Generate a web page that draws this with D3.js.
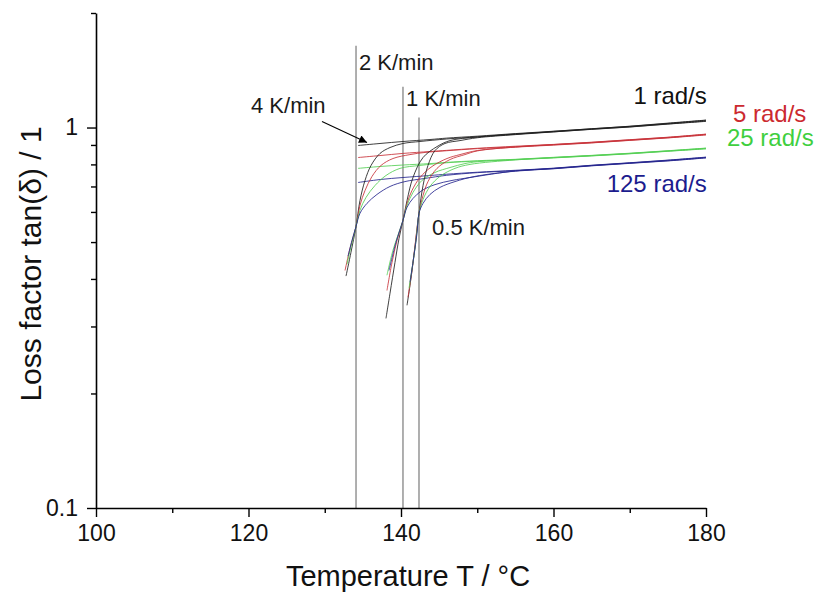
<!DOCTYPE html>
<html>
<head>
<meta charset="utf-8">
<script src="https://cdn.jsdelivr.net/npm/d3@7/dist/d3.min.js"></script>
<style>
  html, body { margin: 0; padding: 0; background: #fff; }
  svg { display: block; font-family: "Liberation Sans", Arial, sans-serif; }
</style>
</head>
<body>
<svg id="chart" width="823" height="592"></svg>
<script>
// Axis ticks
const xMajorTicks = [100, 120, 140, 160, 180];
const xMinorTicks = [110, 130, 150, 170];
const yMajorTicks = [0.1, 1];
const yMinorTicks = [0.2, 0.3, 0.4, 0.5, 0.6, 0.7, 0.8, 0.9, 2];

// Frequencies and heating rates
const frequencies = ["1 rad/s", "5 rad/s", "25 rad/s", "125 rad/s"];
const heatingRates = ["4 K/min", "2 K/min", "1 K/min", "0.5 K/min"];

// Crossover temperatures (°C) marked by vertical lines, and their upper ends (tan δ)
const crossTemps = [134.1, 140.26, 142.36];
const crossTops  = [1.64, 1.28, 1.062];

// tan(δ) vs temperature, [T, tanδ]
// 4 K/min
const r4_f1 = [[134.36,0.897],[137.25,0.908],[140.26,0.919],[143.80,0.930],[146,0.938],[150,0.949],[155,0.964],[160,0.978],[165,0.992],[170,1.008],[175,1.027],[180,1.046]];
const r4_f5 = [[134.36,0.834],[137.25,0.844],[140.26,0.855],[143.80,0.865],[146,0.871],[150,0.882],[155,0.893],[160,0.903],[165,0.915],[170,0.929],[175,0.943],[180,0.961]];
const r4_f25 = [[134.36,0.781],[137.25,0.790],[140.26,0.797],[143.80,0.804],[146,0.810],[150,0.818],[155,0.825],[160,0.835],[165,0.845],[170,0.856],[175,0.869],[180,0.883]];
const r4_f125 = [[134.36,0.717],[137.25,0.730],[140.26,0.739],[143.80,0.748],[146,0.754],[150,0.763],[155,0.772],[160,0.782],[165,0.796],[170,0.808],[175,0.821],[180,0.836]];
// 2 K/min
const r2_f1 = [[132.79,0.407],[133.44,0.470],[134.10,0.549],[134.62,0.643],[135.28,0.726],[136.07,0.795],[137.25,0.855],[138.56,0.886],[140.26,0.908],[142.49,0.919],[146,0.933],[150,0.945],[155,0.962],[160,0.974],[165,0.990],[170,1.004],[175,1.022],[180,1.040]];
const r2_f5 = [[132.66,0.421],[133.31,0.481],[134.10,0.549],[134.62,0.624],[135.28,0.683],[136.20,0.744],[137.38,0.795],[138.95,0.829],[141.18,0.849],[143.15,0.860],[146,0.869],[150,0.880],[155,0.890],[160,0.901],[165,0.912],[170,0.926],[175,0.940],[180,0.958]];
const r2_f25 = [[132.92,0.437],[133.44,0.487],[134.10,0.549],[134.62,0.606],[135.41,0.655],[136.59,0.704],[138.03,0.748],[139.87,0.781],[142.49,0.795],[146,0.808],[150,0.816],[155,0.823],[160,0.833],[165,0.843],[170,0.854],[175,0.867],[180,0.880]];
const r2_f125 = [[133.05,0.459],[133.57,0.505],[134.10,0.549],[134.62,0.595],[135.54,0.632],[136.85,0.667],[138.56,0.700],[140.52,0.721],[143.15,0.735],[146,0.749],[150,0.761],[155,0.770],[160,0.780],[165,0.794],[170,0.806],[175,0.818],[180,0.833]];
// 1 K/min
const r1_f1 = [[138.03,0.315],[138.56,0.367],[139.21,0.442],[139.74,0.511],[140.26,0.570],[140.79,0.643],[141.57,0.739],[142.89,0.834],[144.72,0.891],[146.43,0.924],[150,0.944],[155,0.960],[160,0.977],[165,0.993],[170,1.007],[175,1.025],[180,1.045]];
const r1_f5 = [[138.16,0.373],[138.82,0.442],[139.48,0.505],[140.26,0.570],[140.79,0.632],[141.44,0.683],[142.49,0.739],[144.07,0.790],[146.03,0.829],[147.74,0.849],[150,0.870],[155,0.888],[160,0.899],[165,0.911],[170,0.925],[175,0.939],[180,0.956]];
const r1_f25 = [[138.16,0.409],[138.95,0.476],[140.26,0.570],[140.79,0.624],[141.57,0.675],[142.75,0.726],[144.46,0.762],[146.43,0.785],[148.39,0.804],[150,0.813],[155,0.824],[160,0.834],[165,0.844],[170,0.855],[175,0.868],[180,0.882]];
const r1_f125 = [[138.43,0.421],[139.34,0.499],[140.26,0.570],[140.79,0.617],[141.57,0.651],[142.75,0.683],[144.46,0.708],[146.69,0.726],[149.05,0.739],[155,0.769],[160,0.781],[165,0.795],[170,0.807],[175,0.820],[180,0.835]];
// 0.5 K/min
const r05_f1 = [[140.79,0.341],[141.18,0.385],[141.70,0.461],[142.36,0.595],[142.89,0.704],[143.54,0.795],[144.46,0.870],[145.77,0.908],[147.74,0.924],[150,0.940],[155,0.958],[160,0.974],[165,0.989],[170,1.003],[175,1.021],[180,1.038]];
const r05_f5 = [[140.92,0.358],[141.44,0.421],[141.84,0.490],[142.36,0.595],[142.89,0.663],[143.54,0.721],[144.72,0.781],[146.43,0.824],[148.39,0.849],[150,0.868],[155,0.889],[160,0.902],[165,0.914],[170,0.928],[175,0.942],[180,0.960]];
const r05_f25 = [[141.05,0.378],[141.57,0.442],[141.97,0.505],[142.36,0.595],[142.89,0.647],[143.80,0.700],[145.11,0.744],[147.08,0.781],[149.05,0.800],[155,0.822],[160,0.832],[165,0.842],[170,0.853],[175,0.866],[180,0.879]];
const r05_f125 = [[141.18,0.392],[141.70,0.461],[142.10,0.527],[142.36,0.595],[142.89,0.632],[143.80,0.667],[145.11,0.696],[147.08,0.721],[149.70,0.744],[155,0.768],[160,0.779],[165,0.793],[170,0.805],[175,0.817],[180,0.832]];

const curves = [
  { rate: "4 K/min", freq: 0, data: r4_f1 },  { rate: "4 K/min", freq: 1, data: r4_f5 },
  { rate: "4 K/min", freq: 2, data: r4_f25 }, { rate: "4 K/min", freq: 3, data: r4_f125 },
  { rate: "2 K/min", freq: 0, data: r2_f1 },  { rate: "2 K/min", freq: 1, data: r2_f5 },
  { rate: "2 K/min", freq: 2, data: r2_f25 }, { rate: "2 K/min", freq: 3, data: r2_f125 },
  { rate: "1 K/min", freq: 0, data: r1_f1 },  { rate: "1 K/min", freq: 1, data: r1_f5 },
  { rate: "1 K/min", freq: 2, data: r1_f25 }, { rate: "1 K/min", freq: 3, data: r1_f125 },
  { rate: "0.5 K/min", freq: 0, data: r05_f1 },  { rate: "0.5 K/min", freq: 1, data: r05_f5 },
  { rate: "0.5 K/min", freq: 2, data: r05_f25 }, { rate: "0.5 K/min", freq: 3, data: r05_f125 }
];

const freqColors = ["#1e1e1e", "#c8323a", "#55cf55", "#26268e"];

const svg = d3.select("#chart");
const x = d3.scaleLinear().domain([100, 180]).range([96, 706]);
const y = d3.scaleLog().domain([0.1, 2]).range([508, 13]);

// Crossover markers
svg.append("g").selectAll("line").data(crossTemps).join("line")
  .attr("x1", d => x(d)).attr("x2", d => x(d))
  .attr("y1", (d, i) => y(crossTops[i])).attr("y2", y(0.1))
  .attr("stroke", "#6e6e6e").attr("stroke-width", 1.1);

// Curves
const line = d3.line().x(d => x(d[0])).y(d => y(d[1])).curve(d3.curveCatmullRom.alpha(0.5));
svg.append("g").selectAll("path").data(curves).join("path")
  .attr("d", d => line(d.data))
  .attr("fill", "none")
  .attr("stroke", d => freqColors[d.freq])
  .attr("stroke-opacity", 0.85)
  .attr("stroke-width", 1);

// Axes
svg.append("g").attr("transform", `translate(0,${y(0.1)})`)
  .call(d3.axisBottom(x).tickValues(xMajorTicks).tickFormat(d3.format("d"))
    .tickSize(9).tickSizeOuter(0).tickPadding(8));
svg.append("g").attr("transform", `translate(0,${y(0.1)})`)
  .call(d3.axisBottom(x).tickValues(xMinorTicks).tickFormat("").tickSize(5).tickSizeOuter(0))
  .select(".domain").remove();
svg.append("g").attr("transform", `translate(${x(100)},0)`)
  .call(d3.axisLeft(y).tickValues(yMajorTicks).tickFormat(d => d === 1 ? "1" : "0.1")
    .tickSize(9).tickSizeOuter(0).tickPadding(9));
svg.append("g").attr("transform", `translate(${x(100)},0)`)
  .call(d3.axisLeft(y).tickValues(yMinorTicks).tickFormat("").tickSize(5).tickSizeOuter(0))
  .select(".domain").remove();

svg.selectAll(".domain").attr("stroke", "#000").attr("stroke-width", 1.6);
svg.selectAll(".tick line").attr("stroke", "#000").attr("stroke-width", 1.4);
svg.selectAll(".tick text").attr("font-size", 23).attr("fill", "#111")
  .attr("font-family", "'Liberation Sans', Arial, sans-serif");

// Axis titles
svg.append("text").attr("x", (x(100) + x(180)) / 2 + 7).attr("y", 586)
  .attr("text-anchor", "middle").attr("font-size", 29).attr("fill", "#111")
  .text("Temperature T / °C");
svg.append("text")
  .attr("transform", `translate(41,${264}) rotate(-90)`)
  .attr("text-anchor", "middle").attr("font-size", 30).attr("fill", "#111")
  .text("Loss factor tan(δ) / 1");

// Heating-rate annotations
const rateLabels = [
  { text: "2 K/min", T: 134.49, v: 1.42 },
  { text: "1 K/min", T: 140.66, v: 1.142 },
  { text: "4 K/min", T: 120.33, v: 1.095 },
  { text: "0.5 K/min", T: 144.07, v: 0.521 }
];
svg.append("g").selectAll("text").data(rateLabels).join("text")
  .attr("x", d => x(d.T)).attr("y", d => y(d.v))
  .attr("font-size", 22).attr("fill", "#1a1a1a").text(d => d.text);

// Arrow pointing to the 4 K/min curves
svg.append("defs").append("marker")
  .attr("id", "arrowHead").attr("viewBox", "0 0 10 10")
  .attr("refX", 10).attr("refY", 5).attr("markerWidth", 12).attr("markerHeight", 8)
  .attr("markerUnits", "userSpaceOnUse").attr("orient", "auto")
  .append("path").attr("d", "M0,0 L10,5 L0,10 Z").attr("fill", "#000");
const arrowFrom = [129.64, 1.037], arrowTo = [135.54, 0.913];
svg.append("line")
  .attr("x1", x(arrowFrom[0])).attr("y1", y(arrowFrom[1]))
  .attr("x2", x(arrowTo[0])).attr("y2", y(arrowTo[1]))
  .attr("stroke", "#000").attr("stroke-width", 1.1)
  .attr("marker-end", "url(#arrowHead)");

// Frequency annotations
const freqLabels = [
  { text: "1 rad/s", T: 180.1, v: 1.156, anchor: "end", freq: 0 },
  { text: "5 rad/s", T: 183.54, v: 1.037, anchor: "start", freq: 1 },
  { text: "25 rad/s", T: 182.75, v: 0.892, anchor: "start", freq: 2 },
  { text: "125 rad/s", T: 180.1, v: 0.679, anchor: "end", freq: 3 }
];
const labelColors = ["#111111", "#cc2a30", "#3fcf3f", "#1c1c8e"];
svg.append("g").selectAll("text").data(freqLabels).join("text")
  .attr("x", d => x(d.T)).attr("y", d => y(d.v))
  .attr("text-anchor", d => d.anchor)
  .attr("font-size", 24).attr("fill", d => labelColors[d.freq]).text(d => d.text);
</script>
</body>
</html>
